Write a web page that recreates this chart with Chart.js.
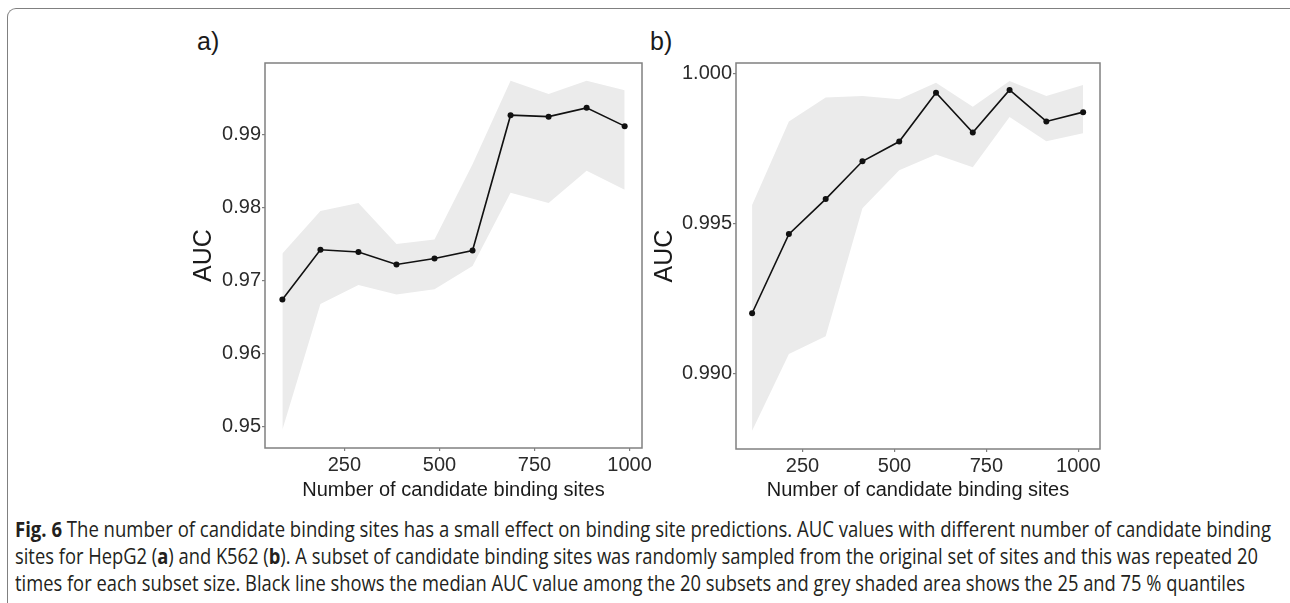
<!DOCTYPE html>
<html>
<head>
<meta charset="utf-8">
<script src="https://cdn.jsdelivr.net/npm/chart.js@4/dist/chart.umd.min.js"></script>
<style>
  body { margin: 0; background: #fff; width: 1290px; height: 603px; overflow: hidden; position: relative; font-family: "Liberation Sans", Arial, sans-serif; }
  .frame { position: absolute; left: 7px; top: 8px; width: 1290px; height: 700px; border-left: 1.5px solid #808080; border-top: 1.5px solid #808080; border-top-left-radius: 9px; }
  .tag { position: absolute; font-size: 25px; line-height: 25px; color: #1a1a1a; }
  canvas { position: absolute; }
  .cap { position: absolute; left: 15px; font-family: "Open Sans", sans-serif; font-size: 21px; line-height: 27px; color: #231f20; white-space: nowrap; transform-origin: 0 0; }
</style>
</head>
<body>
<div class="frame"></div>
<div class="tag" style="left:197px;top:29px">a)</div>
<div class="tag" style="left:650px;top:29px">b)</div>
<canvas id="chartA" width="500" height="460" style="left:160px;top:50px"></canvas>
<canvas id="chartB" width="480" height="460" style="left:640px;top:50px"></canvas>
<div class="cap" id="cap1" style="top:516px"><b>Fig. 6</b> The number of candidate binding sites has a small effect on binding site predictions. AUC values with different number of candidate binding</div>
<div class="cap" id="cap2" style="top:543px">sites for HepG2 (<b>a</b>) and K562 (<b>b</b>). A subset of candidate binding sites was randomly sampled from the original set of sites and this was repeated 20</div>
<div class="cap" id="cap3" style="top:570px">times for each subset size. Black line shows the median AUC value among the 20 subsets and grey shaded area shows the 25 and 75 % quantiles</div>
<script>
// panel a: HepG2
const sitesA = [87, 187, 287, 387, 487, 587, 687, 787, 887, 987];
const medianA = [0.9674, 0.9742, 0.9739, 0.9722, 0.9730, 0.9741, 0.9926, 0.9924, 0.9936, 0.9911];
const q75A = [0.9737, 0.9795, 0.9806, 0.9750, 0.9756, 0.9859, 0.9973, 0.9955, 0.9973, 0.9960];
const q25A = [0.9496, 0.9668, 0.9694, 0.9681, 0.9688, 0.9720, 0.9820, 0.9806, 0.9850, 0.9824];
const yTicksA = [0.95, 0.96, 0.97, 0.98, 0.99];

// panel b: K562
const sitesB = [113, 213, 313, 413, 513, 613, 713, 813, 913, 1013];
const medianB = [0.99200, 0.99464, 0.99581, 0.99707, 0.99773, 0.99936, 0.99803, 0.99945, 0.99840, 0.99871];
const q75B = [0.99561, 0.99840, 0.99920, 0.99925, 0.99914, 0.99969, 0.99889, 0.99975, 0.99925, 0.99962];
const q25B = [0.98808, 0.99064, 0.99123, 0.99550, 0.99677, 0.99730, 0.99687, 0.99855, 0.99774, 0.99801];
const yTicksB = [0.990, 0.995, 1.000];

const xTicks = [250, 500, 750, 1000];

Chart.defaults.font.family = "'Liberation Sans', Arial, sans-serif";

const boxPlugin = {
  id: "box",
  afterDatasetsDraw(chart) {
    const { ctx, chartArea: a } = chart;
    ctx.save();
    ctx.strokeStyle = "#808080";
    ctx.lineWidth = 1.5;
    ctx.strokeRect(a.left, a.top, a.right - a.left, a.bottom - a.top);
    ctx.restore();
  }
};

function pts(xs, ys) {
  return xs.map((x, i) => ({ x: x, y: ys[i] }));
}

function panel(id, o) {
  const el = document.getElementById(id);
  return new Chart(el, {
    type: "line",
    data: {
      datasets: [
        { data: pts(o.xs, o.med), borderColor: "#111", borderWidth: 1.6, pointRadius: 3, pointBackgroundColor: "#111", pointBorderWidth: 0, fill: false, tension: 0 },
        { data: pts(o.xs, o.up), borderWidth: 0, pointRadius: 0, backgroundColor: "#ebebeb", fill: "+1", tension: 0 },
        { data: pts(o.xs, o.low), borderWidth: 0, pointRadius: 0, fill: false, tension: 0 }
      ]
    },
    options: {
      responsive: false,
      animation: false,
      devicePixelRatio: 1,
      layout: { padding: { top: 10, right: o.padRight, bottom: 0, left: 0 } },
      plugins: { legend: { display: false }, tooltip: { enabled: false } },
      scales: {
        x: {
          type: "linear",
          min: o.xmin, max: o.xmax,
          afterBuildTicks: s => { s.ticks = xTicks.map(v => ({ value: v })); },
          afterFit: s => { s.height = o.xh; },
          grid: { drawOnChartArea: false, drawTicks: true, tickLength: 3, color: "#808080", lineWidth: 1.2 },
          border: { display: false },
          ticks: { font: { size: 20 }, color: "#2b2b2b", padding: 2, maxRotation: 0, autoSkip: false, callback: v => String(v) },
          title: { display: true, text: "Number of candidate binding sites", font: { size: 20 }, color: "#1a1a1a", padding: { top: 0, bottom: 8 } }
        },
        y: {
          min: o.ymin, max: o.ymax,
          afterBuildTicks: s => { s.ticks = o.yTicks.map(v => ({ value: v })); },
          afterFit: s => { s.width = o.yw; },
          grid: { drawOnChartArea: false, drawTicks: true, tickLength: 3, color: "#808080", lineWidth: 1.2 },
          border: { display: false },
          ticks: { font: { size: 20 }, color: "#2b2b2b", padding: 1, autoSkip: false, callback: v => v.toFixed(o.digits) },
          title: { display: true, text: "AUC", font: { size: 25 }, color: "#1a1a1a", padding: { top: o.titlePad, bottom: 0 } }
        }
      }
    },
    plugins: [boxPlugin]
  });
}

panel("chartA", {
  xs: sitesA, med: medianA, up: q75A, low: q25A, yTicks: yTicksA, digits: 2,
  xmin: 41.3, xmax: 1032.6, ymin: 0.94711, ymax: 0.99973,
  yw: 105, xh: 62, padRight: 18, titlePad: 29
});

panel("chartB", {
  xs: sitesB, med: medianB, up: q75B, low: q25B, yTicks: yTicksB, digits: 3,
  xmin: 69.2, xmax: 1058.9, ymin: 0.98747, ymax: 1.00035,
  yw: 96, xh: 61, padRight: 20, titlePad: 10
});

// caption lines are squeezed horizontally in the figure
const capWidths = { cap1: 1256, cap2: 1243, cap3: 1230 };
for (const id in capWidths) {
  const el = document.getElementById(id);
  const w = el.getBoundingClientRect().width;
  el.style.transform = "scaleX(" + (capWidths[id] / w) + ")";
}
</script>
</body>
</html>
